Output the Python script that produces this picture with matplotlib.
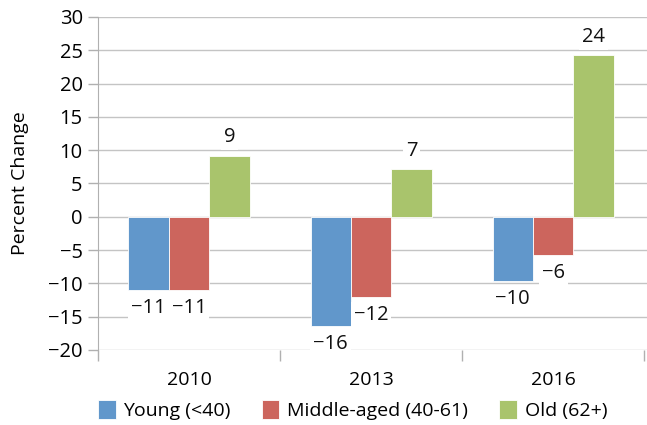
import matplotlib.pyplot as plt
import numpy as np

plt.rcParams['font.family'] = ['Open Sans', 'DejaVu Sans']

years = ['2010', '2013', '2016']
series_names = ['Young (<40)', 'Middle-aged (40-61)', 'Old (62+)']
young = [-11.0, -16.4, -9.7]
middle = [-11.0, -12.1, -5.8]
old = [9.2, 7.2, 24.3]
young_labels = ['\u221211', '\u221216', '\u221210']
middle_labels = ['\u221211', '\u221212', '\u22126']
old_labels = ['9', '7', '24']
colors = ['#6197cb', '#cc655d', '#a9c46c']

fig = plt.figure(figsize=(6.47, 4.25), dpi=100)
ax = fig.add_axes([0.1515, 0.1765, 0.8485, 0.7835])

x = np.arange(len(years))
width = 0.222
offsets = [-width, 0, width]
all_values = [young, middle, old]
all_labels = [young_labels, middle_labels, old_labels]

handles = []
for vals, labs, off, col, name in zip(all_values, all_labels, offsets, colors, series_names):
    bars = ax.bar(x + off, vals, width, color=col, edgecolor='white', linewidth=0.6,
                  label=name, zorder=3)
    handles.append(bars)
    for xi, v, lab in zip(x + off, vals, labs):
        dy = 13 if v > 0 else -13
        ax.annotate(lab, (xi, v), xytext=(0, dy), textcoords='offset points',
                    ha='center', va='center', fontsize=14.5, color='#111111', zorder=4,
                    bbox=dict(boxstyle='square,pad=0.15', fc='white', ec='none'))

ax.set_ylim(-20, 30)
ax.set_xlim(-0.5, 2.515)
ax.set_yticks(range(-20, 31, 5))
ax.set_yticklabels([str(t).replace('-', '\u2212') for t in range(-20, 31, 5)])
ax.set_xticks(x)
ax.set_xticklabels(years)
ax.set_xticks([-0.5, 0.5, 1.5, 2.5], minor=True)
ax.tick_params(axis='x', which='major', length=0, labelsize=14, pad=15)
ax.tick_params(axis='x', which='minor', length=8, color='#b0b0b0', width=1)
ax.tick_params(axis='y', length=7, color='#b0b0b0', width=1, labelsize=14.5, pad=4)
ax.grid(axis='y', color='#c4c4c4', linewidth=1, zorder=0)
for s in ['top', 'right', 'bottom']:
    ax.spines[s].set_visible(False)
ax.spines['left'].set_color('#b0b0b0')
ax.set_ylabel('Percent Change', fontsize=14, labelpad=14)

fig.legend(handles=handles, labels=series_names, loc='lower center', ncol=3,
           bbox_to_anchor=(0.545, -0.03), frameon=False, fontsize=14,
           handlelength=0.9, handleheight=1.1, handletextpad=0.4, columnspacing=1.6)

fig.savefig('out.png', dpi=100)
